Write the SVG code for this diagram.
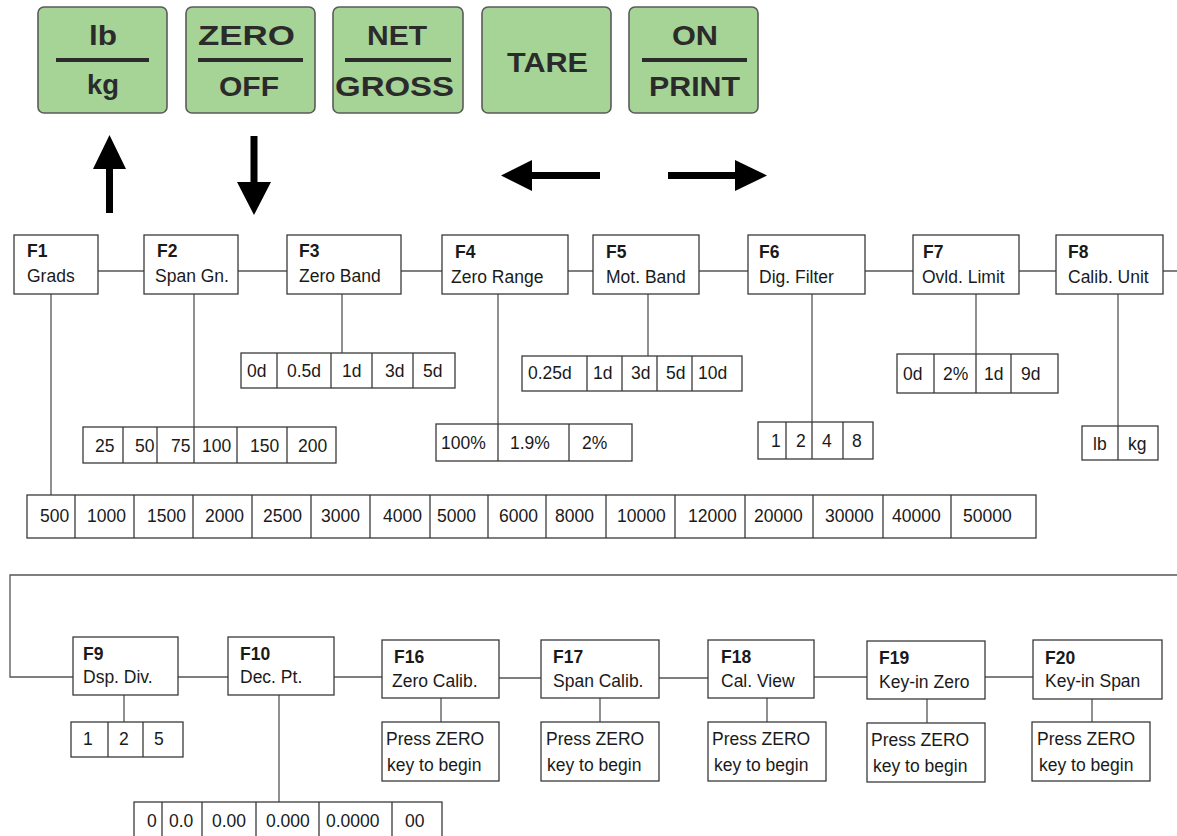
<svg xmlns="http://www.w3.org/2000/svg" width="1177" height="836" viewBox="0 0 1177 836">
<style>
.key{fill:#a6d496;stroke:#5a5a5a;stroke-width:1.6}
.kt{font-family:"Liberation Sans",Arial,sans-serif;font-weight:bold;font-size:28px;fill:#2b2b2b;text-anchor:middle}
.kl{stroke:#2b2b2b;stroke-width:4}
.box{fill:#fff;stroke:#3a3a3a;stroke-width:1.3}
.cell{fill:none;stroke:#3a3a3a;stroke-width:1.3}
.t{font-family:"Liberation Sans",Arial,sans-serif;font-size:17.5px;fill:#1a1a1a}
.b{font-weight:bold}
.con{fill:none;stroke:#555;stroke-width:1.3}
.arr{fill:#000}
</style>
<rect width="1177" height="836" fill="#fff"/>

<g id="keys">
 <g id="key-lb-kg">
  <rect class="key" x="38" y="7" width="129" height="106" rx="6"/>
  <text class="kt" x="103" y="45" textLength="28" lengthAdjust="spacingAndGlyphs">lb</text>
  <line class="kl" x1="56" y1="60" x2="149" y2="60"/>
  <text class="kt" x="103" y="94" textLength="32" lengthAdjust="spacingAndGlyphs">kg</text>
 </g>
 <g id="key-zero-off">
  <rect class="key" x="186" y="7" width="129" height="106" rx="6"/>
  <text class="kt" x="246.5" y="45" textLength="97" lengthAdjust="spacingAndGlyphs">ZERO</text>
  <line class="kl" x1="198" y1="60" x2="303" y2="60"/>
  <text class="kt" x="249" y="96" textLength="60" lengthAdjust="spacingAndGlyphs">OFF</text>
 </g>
 <g id="key-net-gross">
  <rect class="key" x="333" y="7" width="130" height="106" rx="6"/>
  <text class="kt" x="397" y="45" textLength="60" lengthAdjust="spacingAndGlyphs">NET</text>
  <line class="kl" x1="345" y1="60" x2="451" y2="60"/>
  <text class="kt" x="394.5" y="96" textLength="119" lengthAdjust="spacingAndGlyphs">GROSS</text>
 </g>
 <g id="key-tare">
  <rect class="key" x="482" y="7" width="129" height="106" rx="6"/>
  <text class="kt" x="547.5" y="72" textLength="81" lengthAdjust="spacingAndGlyphs">TARE</text>
 </g>
 <g id="key-on-print">
  <rect class="key" x="629" y="7" width="129" height="106" rx="6"/>
  <text class="kt" x="695" y="45" textLength="46" lengthAdjust="spacingAndGlyphs">ON</text>
  <line class="kl" x1="642" y1="60" x2="747" y2="60"/>
  <text class="kt" x="694.5" y="96" textLength="91" lengthAdjust="spacingAndGlyphs">PRINT</text>
 </g>
</g>

<g id="key-arrows">
 <polygon class="arr" points="106,213 106,169 93,169 109.5,135 126,169 113,169 113,213"/>
 <polygon class="arr" points="250.5,136 257.5,136 257.5,182 271,182 254,215 237,182 250.5,182"/>
 <polygon class="arr" points="600,172 532,172 532,160 501,175.5 532,191 532,179 600,179"/>
 <polygon class="arr" points="668,172 735,172 735,160 767,175.5 735,191 735,179 668,179"/>
</g>

<g id="connectors">
 <path class="con" d="M98,271H144M238,271H287M401,271H442M568,271H593M699,271H748M865,271H913M1019,271H1056M1163,271H1177"/>
 <path class="con" d="M51,294V495M194,294V427M342,294V353M498,294V424M648,294V356M812,294V422M976,294V354M1118,294V426"/>
 <path class="con" d="M1177,575H10V677H73"/>
 <path class="con" d="M178,677H228M334,677H382M499,678H541M659,678H708M814,677H867M985,677H1033"/>
 <path class="con" d="M124,695V722M279,695V802M441,698V722M600,698V722M767,698V722M927,699V723M1092,699V722"/>
</g>

<g id="F1"><rect class="box" x="14" y="235" width="84" height="59"/><text class="t b" x="27" y="257">F1</text><text class="t" x="27" y="282">Grads</text></g>
<g id="F2"><rect class="box" x="144" y="235" width="94" height="59"/><text class="t b" x="157" y="257">F2</text><text class="t" x="155" y="282">Span Gn.</text></g>
<g id="F3"><rect class="box" x="287" y="235" width="114" height="59"/><text class="t b" x="299" y="257">F3</text><text class="t" x="299" y="282">Zero Band</text></g>
<g id="F4"><rect class="box" x="442" y="235" width="126" height="59"/><text class="t b" x="455" y="258">F4</text><text class="t" x="451" y="283">Zero Range</text></g>
<g id="F5"><rect class="box" x="593" y="235" width="106" height="59"/><text class="t b" x="606" y="258">F5</text><text class="t" x="606" y="283">Mot. Band</text></g>
<g id="F6"><rect class="box" x="748" y="235" width="117" height="59"/><text class="t b" x="759" y="258">F6</text><text class="t" x="759" y="283">Dig. Filter</text></g>
<g id="F7"><rect class="box" x="913" y="235" width="106" height="59"/><text class="t b" x="923" y="258">F7</text><text class="t" x="922" y="283">Ovld. Limit</text></g>
<g id="F8"><rect class="box" x="1056" y="235" width="107" height="59"/><text class="t b" x="1068" y="258">F8</text><text class="t" x="1068" y="283">Calib. Unit</text></g>

<g id="F1-options">
 <rect class="cell" x="27" y="495" width="1009" height="43"/>
 <path class="cell" d="M75,495V538M134,495V538M193,495V538M252,495V538M311,495V538M370,495V538M430,495V538M488,495V538M546,495V538M606,495V538M675,495V538M745,495V538M813,495V538M883,495V538M951,495V538"/>
 <text class="t" y="522"><tspan x="40">500</tspan><tspan x="87">1000</tspan><tspan x="147">1500</tspan><tspan x="205">2000</tspan><tspan x="263">2500</tspan><tspan x="321">3000</tspan><tspan x="383">4000</tspan><tspan x="437">5000</tspan><tspan x="499">6000</tspan><tspan x="555">8000</tspan><tspan x="617">10000</tspan><tspan x="688">12000</tspan><tspan x="754">20000</tspan><tspan x="825">30000</tspan><tspan x="892">40000</tspan><tspan x="963">50000</tspan></text>
</g>
<g id="F2-options">
 <rect class="cell" x="83" y="427" width="253" height="36"/>
 <path class="cell" d="M123,427V463M157,427V463M194,427V463M237,427V463M287,427V463"/>
 <text class="t" y="452"><tspan x="95">25</tspan><tspan x="135">50</tspan><tspan x="171">75</tspan><tspan x="202">100</tspan><tspan x="250">150</tspan><tspan x="298">200</tspan></text>
</g>
<g id="F3-options">
 <rect class="cell" x="241" y="353" width="214" height="35"/>
 <path class="cell" d="M277,353V388M331,353V388M372,353V388M413,353V388"/>
 <text class="t" y="377"><tspan x="247">0d</tspan><tspan x="287">0.5d</tspan><tspan x="342">1d</tspan><tspan x="385">3d</tspan><tspan x="423">5d</tspan></text>
</g>
<g id="F4-options">
 <rect class="cell" x="436" y="424" width="196" height="37"/>
 <path class="cell" d="M498,424V461M569,424V461"/>
 <text class="t" y="449"><tspan x="441">100%</tspan><tspan x="510">1.9%</tspan><tspan x="582">2%</tspan></text>
</g>
<g id="F5-options">
 <rect class="cell" x="522" y="356" width="220" height="35"/>
 <path class="cell" d="M587,356V391M622,356V391M657,356V391M692,356V391"/>
 <text class="t" y="379"><tspan x="528">0.25d</tspan><tspan x="593">1d</tspan><tspan x="631">3d</tspan><tspan x="666">5d</tspan><tspan x="698">10d</tspan></text>
</g>
<g id="F6-options">
 <rect class="cell" x="758" y="422" width="115" height="37"/>
 <path class="cell" d="M786,422V459M812,422V459M843,422V459"/>
 <text class="t" y="447"><tspan x="771">1</tspan><tspan x="796">2</tspan><tspan x="822">4</tspan><tspan x="852">8</tspan></text>
</g>
<g id="F7-options">
 <rect class="cell" x="897" y="354" width="161" height="39"/>
 <path class="cell" d="M934,354V393M976,354V393M1011,354V393"/>
 <text class="t" y="380"><tspan x="903">0d</tspan><tspan x="943">2%</tspan><tspan x="984">1d</tspan><tspan x="1021">9d</tspan></text>
</g>
<g id="F8-options">
 <rect class="cell" x="1082" y="426" width="76" height="34"/>
 <path class="cell" d="M1118,426V460"/>
 <text class="t" y="450"><tspan x="1093">lb</tspan><tspan x="1128">kg</tspan></text>
</g>

<g id="F9"><rect class="box" x="73" y="637" width="105" height="58"/><text class="t b" x="83" y="660">F9</text><text class="t" x="83" y="683">Dsp. Div.</text></g>
<g id="F10"><rect class="box" x="228" y="637" width="106" height="58"/><text class="t b" x="240" y="660">F10</text><text class="t" x="240" y="683">Dec. Pt.</text></g>
<g id="F16"><rect class="box" x="382" y="640" width="117" height="58"/><text class="t b" x="394" y="663">F16</text><text class="t" x="392" y="687">Zero Calib.</text></g>
<g id="F17"><rect class="box" x="541" y="640" width="118" height="58"/><text class="t b" x="553" y="663">F17</text><text class="t" x="553" y="687">Span Calib.</text></g>
<g id="F18"><rect class="box" x="708" y="640" width="106" height="58"/><text class="t b" x="721" y="663">F18</text><text class="t" x="721" y="687">Cal. View</text></g>
<g id="F19"><rect class="box" x="867" y="641" width="118" height="58"/><text class="t b" x="879" y="664">F19</text><text class="t" x="879" y="688">Key-in Zero</text></g>
<g id="F20"><rect class="box" x="1033" y="640" width="129" height="59"/><text class="t b" x="1045" y="664">F20</text><text class="t" x="1045" y="687">Key-in Span</text></g>

<g id="F9-options">
 <rect class="cell" x="71" y="722" width="112" height="35"/>
 <path class="cell" d="M108,722V757M143,722V757"/>
 <text class="t" y="745"><tspan x="83">1</tspan><tspan x="119">2</tspan><tspan x="154">5</tspan></text>
</g>
<g id="F10-options">
 <rect class="cell" x="134" y="802" width="308" height="40"/>
 <path class="cell" d="M162,802V842M202,802V842M256,802V842M319,802V842M392,802V842"/>
 <text class="t" y="827"><tspan x="147">0</tspan><tspan x="169">0.0</tspan><tspan x="212">0.00</tspan><tspan x="266">0.000</tspan><tspan x="326">0.0000</tspan><tspan x="405">00</tspan></text>
</g>
<g id="F16-action"><rect class="box" x="382" y="722" width="117" height="59"/><text class="t" x="386" y="745">Press ZERO</text><text class="t" x="387" y="771">key to begin</text></g>
<g id="F17-action"><rect class="box" x="541" y="722" width="118" height="59"/><text class="t" x="546" y="745">Press ZERO</text><text class="t" x="547" y="771">key to begin</text></g>
<g id="F18-action"><rect class="box" x="708" y="722" width="118" height="59"/><text class="t" x="712" y="745">Press ZERO</text><text class="t" x="714" y="771">key to begin</text></g>
<g id="F19-action"><rect class="box" x="867" y="723" width="118" height="59"/><text class="t" x="871" y="746">Press ZERO</text><text class="t" x="873" y="772">key to begin</text></g>
<g id="F20-action"><rect class="box" x="1032" y="722" width="118" height="59"/><text class="t" x="1037" y="745">Press ZERO</text><text class="t" x="1039" y="771">key to begin</text></g>
</svg>
